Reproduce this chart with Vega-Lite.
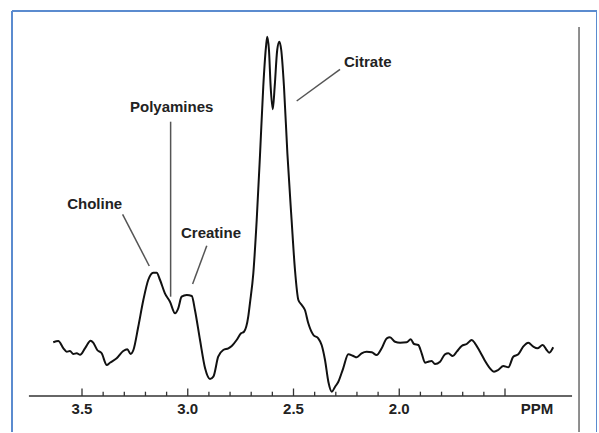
{
  "$schema": "https://vega.github.io/schema/vega-lite/v6.json",
  "width": 585,
  "height": 421,
  "autosize": "none",
  "padding": {"left": 12, "top": 11, "right": 0, "bottom": 0},
  "background": "white",
  "config": {"view": {"stroke": null}},
  "datasets": {
    "spectrum": [
      {"ppm":3.636,"v":53.7},{"ppm":3.612,"v":55},{"ppm":3.588,"v":47.7},{"ppm":3.572,"v":44.3},{"ppm":3.557,"v":45},
      {"ppm":3.541,"v":42},{"ppm":3.525,"v":42.7},{"ppm":3.509,"v":41.3},{"ppm":3.486,"v":47.7},{"ppm":3.459,"v":55.3},
      {"ppm":3.447,"v":53.3},{"ppm":3.428,"v":46},{"ppm":3.407,"v":42.7},{"ppm":3.383,"v":31},{"ppm":3.368,"v":33.3},
      {"ppm":3.336,"v":37.7},{"ppm":3.305,"v":45},{"ppm":3.286,"v":46.7},{"ppm":3.270,"v":42},{"ppm":3.257,"v":46},
      {"ppm":3.234,"v":69.3},{"ppm":3.210,"v":96},{"ppm":3.187,"v":116},{"ppm":3.163,"v":123.3},{"ppm":3.147,"v":123.3},
      {"ppm":3.131,"v":116},{"ppm":3.108,"v":102.7},{"ppm":3.084,"v":94.3},{"ppm":3.060,"v":82.7},{"ppm":3.045,"v":87.7},
      {"ppm":3.029,"v":99.3},{"ppm":3.005,"v":101},{"ppm":2.981,"v":100},{"ppm":2.966,"v":86},{"ppm":2.942,"v":56},
      {"ppm":2.918,"v":27.7},{"ppm":2.895,"v":17},{"ppm":2.879,"v":19.3},{"ppm":2.856,"v":39.3},{"ppm":2.832,"v":46},
      {"ppm":2.808,"v":47.7},{"ppm":2.792,"v":50},{"ppm":2.769,"v":56},{"ppm":2.748,"v":62.7},{"ppm":2.734,"v":64.3},
      {"ppm":2.714,"v":79.3},{"ppm":2.706,"v":92.7},{"ppm":2.690,"v":122.7},{"ppm":2.674,"v":176},{"ppm":2.658,"v":242.7},
      {"ppm":2.643,"v":309.3},{"ppm":2.630,"v":349.3},{"ppm":2.624,"v":359.3},{"ppm":2.616,"v":346},{"ppm":2.608,"v":309.3},
      {"ppm":2.598,"v":286.7},{"ppm":2.589,"v":309.3},{"ppm":2.577,"v":346},{"ppm":2.567,"v":354.3},{"ppm":2.558,"v":346},
      {"ppm":2.545,"v":309.3},{"ppm":2.529,"v":242.7},{"ppm":2.509,"v":176},{"ppm":2.493,"v":126},{"ppm":2.477,"v":96},
      {"ppm":2.461,"v":91},{"ppm":2.446,"v":86},{"ppm":2.430,"v":72.7},{"ppm":2.406,"v":61},{"ppm":2.383,"v":57.7},
      {"ppm":2.367,"v":51},{"ppm":2.351,"v":36},{"ppm":2.335,"v":14},{"ppm":2.319,"v":4.3},{"ppm":2.304,"v":9},
      {"ppm":2.288,"v":14.3},{"ppm":2.265,"v":27.7},{"ppm":2.241,"v":41.7},{"ppm":2.217,"v":40},{"ppm":2.201,"v":38.7},
      {"ppm":2.178,"v":42.7},{"ppm":2.154,"v":44.3},{"ppm":2.130,"v":43.7},{"ppm":2.107,"v":41},{"ppm":2.083,"v":47.7},
      {"ppm":2.059,"v":57.7},{"ppm":2.044,"v":58.7},{"ppm":2.020,"v":54.3},{"ppm":1.996,"v":53.3},{"ppm":1.965,"v":53.7},
      {"ppm":1.946,"v":56.7},{"ppm":1.930,"v":52},{"ppm":1.910,"v":51},{"ppm":1.894,"v":42.7},{"ppm":1.878,"v":33.3},
      {"ppm":1.863,"v":34.3},{"ppm":1.847,"v":35},{"ppm":1.831,"v":32},{"ppm":1.807,"v":34.3},{"ppm":1.784,"v":41.7},
      {"ppm":1.768,"v":42.7},{"ppm":1.747,"v":40},{"ppm":1.728,"v":44.3},{"ppm":1.705,"v":50},{"ppm":1.681,"v":52},
      {"ppm":1.657,"v":56},{"ppm":1.642,"v":52.7},{"ppm":1.618,"v":44.3},{"ppm":1.595,"v":35.3},{"ppm":1.571,"v":27.7},
      {"ppm":1.552,"v":24.3},{"ppm":1.532,"v":26},{"ppm":1.508,"v":30},{"ppm":1.484,"v":28.7},{"ppm":1.461,"v":39.3},
      {"ppm":1.437,"v":41.7},{"ppm":1.414,"v":49.3},{"ppm":1.390,"v":53.3},{"ppm":1.366,"v":49.3},{"ppm":1.347,"v":47.7},
      {"ppm":1.322,"v":51},{"ppm":1.303,"v":46},{"ppm":1.291,"v":43.3},{"ppm":1.272,"v":48.7}
    ],
    "ticks": [
      {"ppm":3.5,"major":true,"label":"3.5"},{"ppm":3.4,"major":false,"label":""},{"ppm":3.3,"major":false,"label":""},
      {"ppm":3.2,"major":false,"label":""},{"ppm":3.1,"major":false,"label":""},{"ppm":3.0,"major":true,"label":"3.0"},
      {"ppm":2.9,"major":false,"label":""},{"ppm":2.8,"major":false,"label":""},{"ppm":2.7,"major":false,"label":""},
      {"ppm":2.6,"major":false,"label":""},{"ppm":2.5,"major":true,"label":"2.5"},{"ppm":2.4,"major":false,"label":""},
      {"ppm":2.3,"major":false,"label":""},{"ppm":2.2,"major":false,"label":""},{"ppm":2.1,"major":false,"label":""},
      {"ppm":2.0,"major":true,"label":"2.0"},{"ppm":1.9,"major":false,"label":""},{"ppm":1.8,"major":false,"label":""},
      {"ppm":1.7,"major":false,"label":""},{"ppm":1.6,"major":false,"label":""},{"ppm":1.5,"major":true,"label":""}
    ],
    "leaders": [
      {"name":"Citrate","ppm":2.280,"v":326.7,"ppm2":2.485,"v2":295},
      {"name":"Polyamines","ppm":3.081,"v":274.3,"ppm2":3.081,"v2":99.3},
      {"name":"Choline","ppm":3.308,"v":181.7,"ppm2":3.182,"v2":130},
      {"name":"Creatine","ppm":2.910,"v":150.3,"ppm2":2.977,"v2":112}
    ],
    "labels": [
      {"text":"Citrate","ppm":2.149,"v":333.7},
      {"text":"Polyamines","ppm":3.076,"v":289.3},
      {"text":"Choline","ppm":3.440,"v":192},
      {"text":"Creatine","ppm":2.890,"v":162.7}
    ],
    "frame": [
      {"side":"left","ppm":3.831,"v":-36,"ppm2":3.831,"v2":385},
      {"side":"top","ppm":3.831,"v":385,"ppm2":1.065,"v2":385},
      {"side":"right","ppm":1.065,"v":-36,"ppm2":1.065,"v2":385}
    ],
    "lines": [
      {"name":"baseline","ppm":3.751,"v":0,"ppm2":1.183,"v2":0},
      {"name":"divider","ppm":1.150,"v":369,"ppm2":1.150,"v2":-36}
    ]
  },
  "layer": [
    {
      "data": {"name": "frame"},
      "mark": {"type": "rule", "color": "#5b8bcf", "strokeWidth": 2},
      "encoding": {
        "x": {"field": "ppm", "type": "quantitative", "scale": {"domain": [1.065, 3.831], "reverse": true, "nice": false, "zero": false}, "axis": null},
        "x2": {"field": "ppm2"},
        "y": {"field": "v", "type": "quantitative", "scale": {"domain": [-36, 385], "nice": false, "zero": false}, "axis": null},
        "y2": {"field": "v2"}
      }
    },
    {
      "data": {"name": "lines"},
      "transform": [{"filter": "datum.name === 'divider'"}],
      "mark": {"type": "rule", "color": "#6a6a6a", "strokeWidth": 1.5},
      "encoding": {
        "x": {"field": "ppm", "type": "quantitative"},
        "x2": {"field": "ppm2"},
        "y": {"field": "v", "type": "quantitative"},
        "y2": {"field": "v2"}
      }
    },
    {
      "data": {"name": "lines"},
      "transform": [{"filter": "datum.name === 'baseline'"}],
      "mark": {"type": "rule", "color": "#333333", "strokeWidth": 1.5},
      "encoding": {
        "x": {"field": "ppm", "type": "quantitative"},
        "x2": {"field": "ppm2"},
        "y": {"field": "v", "type": "quantitative"},
        "y2": {"field": "v2"}
      }
    },
    {
      "data": {"name": "ticks"},
      "transform": [{"filter": "datum.major"}],
      "mark": {"type": "rule", "color": "#333333", "strokeWidth": 1.3},
      "encoding": {
        "x": {"field": "ppm", "type": "quantitative"},
        "y": {"datum": 0},
        "y2": {"datum": 7.5}
      }
    },
    {
      "data": {"name": "ticks"},
      "transform": [{"filter": "!datum.major"}],
      "mark": {"type": "rule", "color": "#333333", "strokeWidth": 1.3},
      "encoding": {
        "x": {"field": "ppm", "type": "quantitative"},
        "y": {"datum": 0},
        "y2": {"datum": 4.3}
      }
    },
    {
      "data": {"name": "ticks"},
      "transform": [{"filter": "datum.label !== ''"}],
      "mark": {"type": "text", "font": "Liberation Sans", "fontWeight": "bold", "fontSize": 15, "color": "#222222", "baseline": "middle", "align": "center"},
      "encoding": {
        "x": {"field": "ppm", "type": "quantitative"},
        "y": {"datum": -13},
        "text": {"field": "label"}
      }
    },
    {
      "data": {"values": [{"unit": "PPM", "ppm": 1.349, "v": -13}]},
      "mark": {"type": "text", "font": "Liberation Sans", "fontWeight": "bold", "fontSize": 15, "color": "#222222", "baseline": "middle", "align": "center"},
      "encoding": {
        "x": {"field": "ppm", "type": "quantitative"},
        "y": {"field": "v", "type": "quantitative"},
        "text": {"field": "unit"}
      }
    },
    {
      "data": {"name": "spectrum"},
      "mark": {"type": "line", "color": "#111111", "strokeWidth": 2, "interpolate": "monotone"},
      "encoding": {
        "x": {"field": "ppm", "type": "quantitative"},
        "y": {"field": "v", "type": "quantitative"}
      }
    },
    {
      "data": {"name": "leaders"},
      "mark": {"type": "rule", "color": "#555555", "strokeWidth": 1.5},
      "encoding": {
        "x": {"field": "ppm", "type": "quantitative"},
        "x2": {"field": "ppm2"},
        "y": {"field": "v", "type": "quantitative"},
        "y2": {"field": "v2"}
      }
    },
    {
      "data": {"name": "labels"},
      "mark": {"type": "text", "font": "Liberation Sans", "fontWeight": "bold", "fontSize": 15, "color": "#222222", "baseline": "middle", "align": "center"},
      "encoding": {
        "x": {"field": "ppm", "type": "quantitative"},
        "y": {"field": "v", "type": "quantitative"},
        "text": {"field": "text"}
      }
    }
  ]
}
